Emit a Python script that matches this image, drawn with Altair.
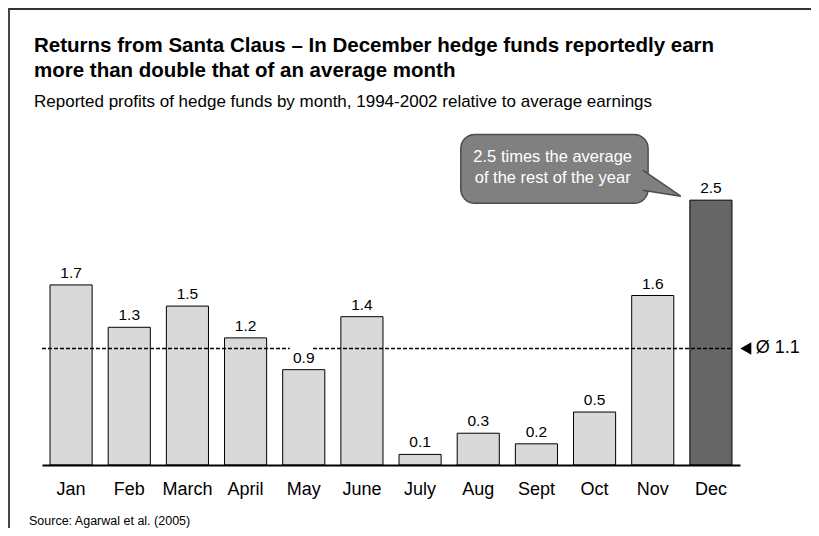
import altair as alt
import pandas as pd

# ---------------- data ----------------
months = ["Jan", "Feb", "March", "April", "May", "June",
          "July", "Aug", "Sept", "Oct", "Nov", "Dec"]
values = [1.7, 1.3, 1.5, 1.2, 0.9, 1.4, 0.1, 0.3, 0.2, 0.5, 1.6, 2.5]
highlight = ["Dec"]
average = 1.1
average_label = "Ø 1.1"

title_lines = ["Returns from Santa Claus – In December hedge funds reportedly earn",
               "more than double that of an average month"]
subtitle = "Reported profits of hedge funds by month, 1994-2002 relative to average earnings"
source = "Source: Agarwal  et al. (2005)"
callout_lines = ["2.5 times the average", "of the rest of the year"]

FONT = "Liberation Sans"
W, H = 698, 339
Y_MAX = 3.2
N = len(months)

df = pd.DataFrame({"month": months, "value": values,
                   "hl": [m in highlight for m in months]})
df["label"] = df["value"].map(lambda v: f"{v:.1f}")

yscale = alt.Scale(domain=[0, Y_MAX], nice=False, zero=True)
band = alt.Scale(paddingInner=0.276, paddingOuter=0.138)

# ---------------- bars + value labels (band scale) ----------------
x_axis = alt.Axis(title=None, labelAngle=0, ticks=False, domainColor="black",
                  domainWidth=2, labelFontSize=18, labelFont=FONT,
                  labelColor="black", labelPadding=15, grid=False, zindex=1)
xband = alt.X("month:N", sort=months, scale=band, axis=x_axis)

bars = alt.Chart(df).mark_bar(stroke="black", strokeWidth=1).encode(
    x=xband,
    y=alt.Y("value:Q", scale=yscale, axis=None),
    color=alt.Color("hl:N", scale=alt.Scale(domain=[False, True],
                                             range=["#d9d9d9", "#666666"]),
                    legend=None),
)
labels = alt.Chart(df).mark_text(dy=-7, baseline="alphabetic", fontSize=15.5,
                                 font=FONT, color="black").encode(
    x=xband,
    y=alt.Y("value:Q", scale=yscale, axis=None),
    text="label:N",
)
base = alt.layer(bars, labels)

# ---------------- annotations (linear x over band positions) ----------------
xl_scale = alt.Scale(domain=[0, N], nice=False, zero=False)

def X(f="x"):
    return alt.X(f + ":Q", scale=xl_scale, axis=None)

def Y(f="y"):
    return alt.Y(f + ":Q", scale=yscale, axis=None)

avg_df = pd.DataFrame({"x": [0, 4.66], "x2": [4.26, 11.88], "y": [average, average]})
avg_rule = alt.Chart(avg_df).mark_rule(strokeDash=[4, 2], strokeWidth=1.6,
                                       color="black").encode(
    x=X(), x2="x2:Q", y=Y())

box_df = pd.DataFrame({"x": [7.2], "x2": [10.42], "y": [2.47], "y2": [3.12]})
box = alt.Chart(box_df).mark_rect(cornerRadius=14, fill="#808080",
                                  stroke="#4d4d4d", strokeWidth=1.5).encode(
    x=X(), x2="x2:Q", y=Y(), y2="y2:Q")

ptr_df = pd.DataFrame({"x": [10.62], "y": [2.66]})
pointer = alt.Chart(ptr_df).mark_point(
    shape="M -0.81 -0.62 L 1 0.62 L -0.81 0.33", size=1764, filled=True,
    fill="#808080", stroke="#4d4d4d", strokeWidth=1.5, opacity=1).encode(
    x=X(), y=Y())

co_df = pd.DataFrame({"x": [8.78, 8.78], "y": [2.91, 2.71], "t": callout_lines})
co_text = alt.Chart(co_df).mark_text(fontSize=16.5, font=FONT, color="white",
                                     align="center", baseline="middle").encode(
    x=X(), y=Y(), text="t:N")

mk_df = pd.DataFrame({"x": [12.1], "y": [average]})
avg_marker = alt.Chart(mk_df).mark_point(shape="triangle-left", size=160,
                                         filled=True, color="black",
                                         opacity=1).encode(x=X(), y=Y())
at_df = pd.DataFrame({"x": [12.27], "y": [average], "t": [average_label]})
avg_text = alt.Chart(at_df).mark_text(fontSize=18, font=FONT, color="black",
                                      align="left", baseline="middle").encode(
    x=X(), y=Y(), text="t:N")

one = alt.Data(values=[{}])

def txt(s, x, y, size, weight="normal"):
    return alt.Chart(one).mark_text(fontSize=size, font=FONT, fontWeight=weight,
                                    color="black", align="left",
                                    baseline="middle").encode(
        x=alt.value(x), y=alt.value(y), text=alt.value(s))

t1 = txt(title_lines[0], -8, -80, 20.5, "bold")
t2 = txt(title_lines[1], -8, -55, 20.5, "bold")
st = txt(subtitle, -8, -24, 17)
src = txt(source, -13, 395, 12.5)

# outer frame: only its left and top edges fall inside the picture
frame = alt.Chart(one).mark_rect(fill=None, stroke="#333333", strokeWidth=1.8).encode(
    x=alt.value(-33), x2=alt.value(820), y=alt.value(-117), y2=alt.value(560))

ann = alt.layer(avg_rule, box, pointer, co_text, avg_marker, avg_text,
                t1, t2, st, src, frame)

chart = alt.layer(base, ann).resolve_scale(x="independent").properties(
    width=W, height=H,
    padding={"left": 34, "top": 118, "right": 71, "bottom": 63},
    autosize=alt.AutoSizeParams(type="none"),
).configure_view(stroke=None)

chart.save("out.html", embed_options={"renderer": "svg", "actions": False})
